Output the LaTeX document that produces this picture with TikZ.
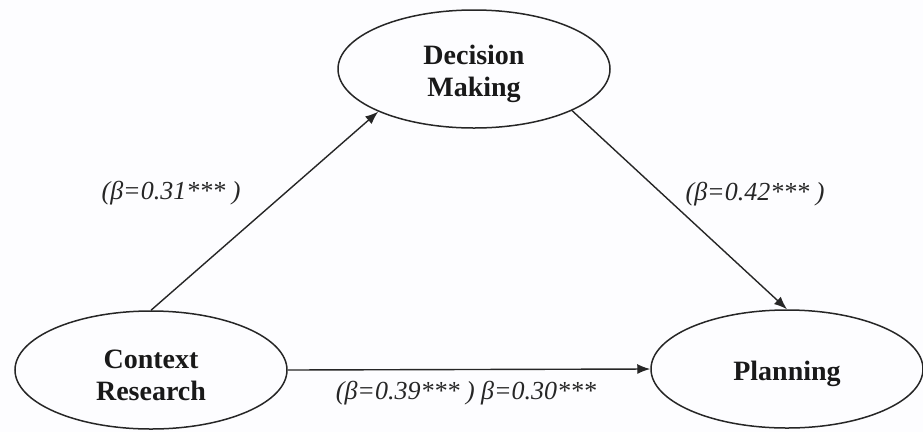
\documentclass[tikz,border=0pt]{standalone}
\usepackage{fontspec}
\setmainfont{Liberation Serif}
\usetikzlibrary{arrows.meta,shapes.geometric}
\begin{document}
\begin{tikzpicture}[x=1pt,y=-1pt,
  construct/.style={ellipse, draw=black!85, line width=1.5pt, minimum width=272pt, minimum height=118pt, inner sep=0pt},
  ctext/.style={align=center, font=\fontsize{28}{32}\selectfont\bfseries, text=black!90, yshift=-5pt},
  path/.style={draw=black!85, line width=1.4pt, -{Latex[length=13pt,width=10pt]}},
  coef/.style={font=\fontsize{26}{30}\selectfont\itshape, text=black!85}]
\fill[white!97!blue!20] (0,0) rectangle (923,432);
\useasboundingbox (0,0) rectangle (923,432);
\node[construct, label={[ctext]center:Decision\\Making}] (dec) at (474,69) {};
\node[construct, label={[ctext]center:Context\\Research}] (ctx) at (151,370) {};
\node[construct, label={[ctext]center:Planning}] (plan) at (787,369) {};
\draw[path] (ctx.north) -- (dec.204.6);
\draw[path] (dec.-23.7) -- (plan.north);
\draw[path] (ctx.east) -- (plan.west);
\node[coef] (l1) at (171,193) {(β=0.31*** )};
\node[coef] (l2) at (755,194) {(β=0.42*** )};
\node[coef] (l3) at (466,393) {(β=0.39*** ) β=0.30***};
\end{tikzpicture}
\end{document}
